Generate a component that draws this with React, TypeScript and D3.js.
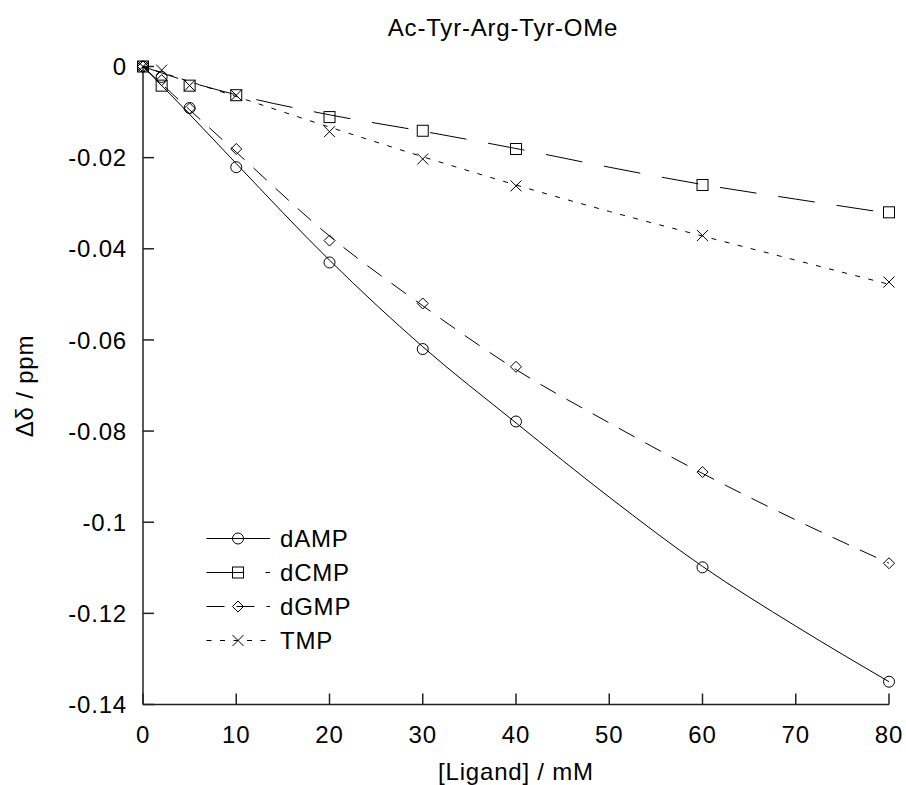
import React from "react";
import * as d3 from "d3";

// Measured ligand concentrations (mM)
const ligandConc = [0, 2, 5, 10, 20, 30, 40, 60, 80];
const dAMP = [0, -0.0023, -0.0091, -0.0221, -0.043, -0.062, -0.0779, -0.1099, -0.135];
const dCMP = [0, -0.0042, -0.0042, -0.0063, -0.0111, -0.0141, -0.0181, -0.026, -0.032];
const dGMP = [0, -0.003, -0.0092, -0.0181, -0.0382, -0.052, -0.0659, -0.089, -0.109];
const TMP = [0, -0.0008, -0.0042, -0.0063, -0.0143, -0.0203, -0.0262, -0.0371, -0.0473];

// Fitted curves
const fitConc = [0, 5, 10, 20, 30, 40, 50, 60, 70, 80];
const dAMPFit = [0, -0.0105, -0.0213, -0.0425, -0.0615, -0.0782, -0.0945, -0.1097, -0.1228, -0.135];
const dCMPFit = [0, -0.0034, -0.0062, -0.0106, -0.0142, -0.0180, -0.0221, -0.0259, -0.0291, -0.0322];
const dGMPFit = [0, -0.0095, -0.0188, -0.0372, -0.0525, -0.0665, -0.0782, -0.0893, -0.0995, -0.109];
const TMPFit = [0, -0.0033, -0.0066, -0.0133, -0.0198, -0.026, -0.0318, -0.0372, -0.0425, -0.0478];

const xTicks = [0, 10, 20, 30, 40, 50, 60, 70, 80];
const yTicks = [0, -0.02, -0.04, -0.06, -0.08, -0.1, -0.12, -0.14];
const yTickLabels = ["0", "-0.02", "-0.04", "-0.06", "-0.08", "-0.1", "-0.12", "-0.14"];

const seriesNames = ["dAMP", "dCMP", "dGMP", "TMP"];
const seriesPoints = [dAMP, dCMP, dGMP, TMP];
const seriesFits = [dAMPFit, dCMPFit, dGMPFit, TMPFit];
const seriesDash = ["none", "37,22", "18,12", "5,8.5"];
const seriesMarker = ["circle", "square", "diamond", "cross"];

const W = 906;
const H = 785;
const FONT = "'Liberation Sans', Arial, Helvetica, sans-serif";

function Marker({ kind, x, y }: { kind: string; x: number; y: number }) {
  const s = 5.5;
  const common = { fill: "none", stroke: "#000", strokeWidth: 1 };
  if (kind === "circle") return <circle cx={x} cy={y} r={s} {...common} />;
  if (kind === "square") return <rect x={x - s} y={y - s} width={2 * s} height={2 * s} {...common} />;
  if (kind === "diamond")
    return <path d={`M${x},${y - s}L${x + s},${y}L${x},${y + s}L${x - s},${y}Z`} {...common} />;
  return <path d={`M${x - s},${y - s}L${x + s},${y + s}M${x - s},${y + s}L${x + s},${y - s}`} {...common} />;
}

export default function App() {
  const x = d3.scaleLinear().domain([0, 80]).range([143, 889]);
  const y = d3.scaleLinear().domain([-0.14, 0]).range([704.5, 66.5]);
  const line = d3
    .line<[number, number]>()
    .x((d) => x(d[0]))
    .y((d) => y(d[1]))
    .curve(d3.curveMonotoneX);

  const tickLen = 11;
  const legendX0 = 206.5;
  const legendX1 = 270;
  const legendY0 = 538.5;
  const legendDy = 34;

  return (
    <svg
      width={W}
      height={H}
      style={{ position: "absolute", left: 0, top: 0, background: "#fff" }}
      fontFamily={FONT}
    >
      <rect width={W} height={H} fill="#fff" />
      {/* title */}
      <text x={503} y={36} fontSize={24} textAnchor="middle" letterSpacing={0.8} fill="#000">
        Ac-Tyr-Arg-Tyr-OMe
      </text>

      {/* axes */}
      <g stroke="#222" strokeWidth={1.5} fill="none">
        <line x1={x(0)} y1={y(0)} x2={x(0)} y2={y(-0.14)} />
        <line x1={x(0)} y1={y(-0.14)} x2={x(80)} y2={y(-0.14)} />
        {xTicks.map((t) => (
          <line key={"xt" + t} x1={x(t)} x2={x(t)} y1={y(-0.14)} y2={y(-0.14) - tickLen} />
        ))}
        {yTicks.map((t) => (
          <line key={"yt" + t} x1={x(0)} x2={x(0) + tickLen} y1={y(t)} y2={y(t)} />
        ))}
      </g>
      {xTicks.map((t) => (
        <text key={"xl" + t} x={x(t)} y={743} fontSize={24} textAnchor="middle" letterSpacing={0.8}>
          {t}
        </text>
      ))}
      {yTicks.map((t, i) => (
        <text key={"yl" + t} x={127} y={y(t)} dy="0.36em" fontSize={24} textAnchor="end" letterSpacing={0.8}>
          {yTickLabels[i]}
        </text>
      ))}
      <text x={516} y={780} fontSize={24} textAnchor="middle" letterSpacing={0.8}>
        [Ligand] / mM
      </text>
      <text
        transform={`translate(33,386) rotate(-90)`}
        fontSize={24}
        textAnchor="middle"
        letterSpacing={0.8}
      >
        Δδ / ppm
      </text>

      {/* fitted curves */}
      {seriesFits.map((fit, i) => (
        <path
          key={"fit" + i}
          d={line(fitConc.map((c, j) => [c, fit[j]] as [number, number])) || ""}
          fill="none"
          stroke="#000"
          strokeWidth={1}
          strokeDasharray={seriesDash[i]}
        />
      ))}

      {/* data points */}
      {seriesPoints.map((pts, i) => (
        <g key={"pts" + i}>
          {pts.map((v, j) => (
            <Marker key={j} kind={seriesMarker[i]} x={x(ligandConc[j])} y={y(v)} />
          ))}
        </g>
      ))}

      {/* legend */}
      {seriesNames.map((name, i) => {
        const ly = legendY0 + i * legendDy;
        return (
          <g key={"lg" + i}>
            <line
              x1={legendX0}
              x2={legendX1}
              y1={ly}
              y2={ly}
              stroke="#000"
              strokeWidth={1}
              strokeDasharray={seriesDash[i]}
            />
            <Marker kind={seriesMarker[i]} x={238} y={ly} />
            <text x={280} y={ly} dy="0.36em" fontSize={24} letterSpacing={0.8}>
              {name}
            </text>
          </g>
        );
      })}
    </svg>
  );
}
